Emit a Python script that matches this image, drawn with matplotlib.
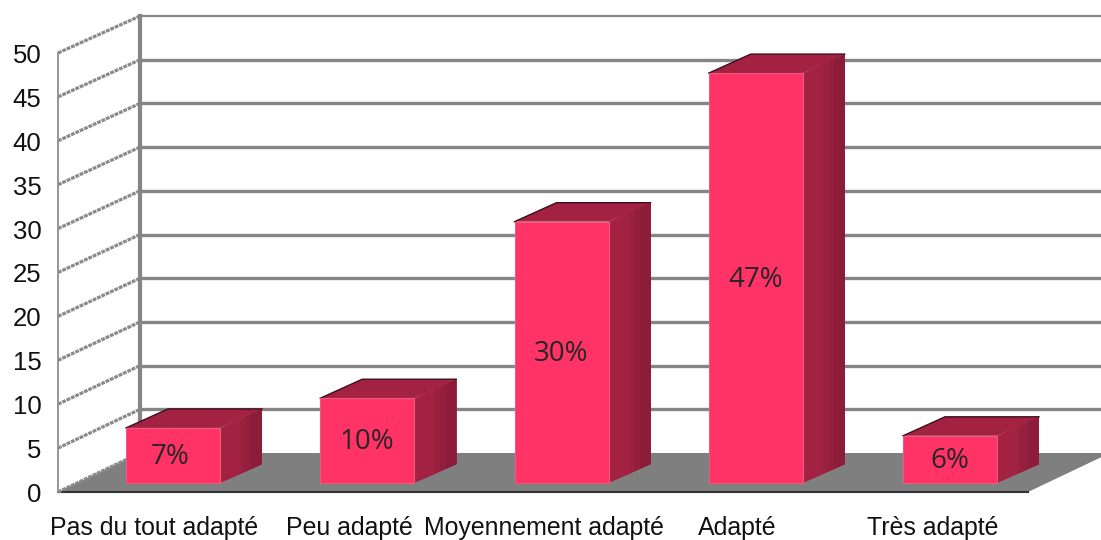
import matplotlib
matplotlib.use("Agg")
import matplotlib.pyplot as plt
from matplotlib.patches import Polygon

categories = ["Pas du tout adapté", "Peu adapté", "Moyennement adapté", "Adapté", "Très adapté"]
bar_heights = [6.3, 9.7, 29.9, 46.9, 5.4]   # as drawn, short bars sit a bit under their label
pct_labels = ["7%", "10%", "30%", "47%", "6%"]
yticks = [0, 5, 10, 15, 20, 25, 30, 35, 40, 45, 50]

# pixels per data unit, data plane = front face of the bars
SX = 194.25
SY = 8.74
W, H = 1101, 540
X0_PX, Y0_PX = 173, 483


def px_x(p):
    return (p - X0_PX) / SX


def px_y(p):
    return (Y0_PX - p) / SY


def mix(c1, c2, t):
    return tuple(a + (b - a) * t for a, b in zip(c1, c2))


BAR_W = 94 / SX
BAR_DX, BAR_DY = 42 / SX, 19 / SY
FRONT_X, BACK_X = px_x(58), px_x(140)
FRONT_RIGHT = px_x(1028)
FRONT_Y0, BACK_Y0 = px_y(492), px_y(453)
GRID = "#858585"
SIDE_LIGHT = (0xa3 / 255, 0x22 / 255, 0x42 / 255)
SIDE_DARK = (0x8c / 255, 0x1c / 255, 0x3a / 255)
STRIPS = 8

fig = plt.figure(figsize=(W / 100, H / 100), dpi=100)
ax = fig.add_axes([0, 0, 1, 1])
ax.set_xlim(px_x(0), px_x(W))
ax.set_ylim(px_y(H), px_y(0))
ax.axis("off")

# floor
floor_dx = BACK_X - FRONT_X
ax.add_patch(Polygon([(FRONT_X, FRONT_Y0), (FRONT_RIGHT, FRONT_Y0),
                      (FRONT_RIGHT + floor_dx, BACK_Y0), (BACK_X, BACK_Y0)],
                     fc="#7f7f7f", ec="none", zorder=1))
ax.plot([FRONT_X, FRONT_RIGHT], [FRONT_Y0, FRONT_Y0], color="#333333", lw=1.5, zorder=2)

# walls and grid
step = 43.7 / SY / 5
front_step = 43.9 / SY / 5
for v in yticks:
    back = BACK_Y0 + v * step
    front = FRONT_Y0 + v * front_step
    if v > 0:
        ax.plot([BACK_X, FRONT_RIGHT + floor_dx], [back, back], color=GRID,
                lw=1.6 if v == 50 else 2.4, zorder=2, solid_capstyle="butt")
    ax.plot([FRONT_X, BACK_X], [front, back], color="#8a8a8a", lw=2.3, ls=(0, (1.2, 0.3)),
            zorder=2)
    ax.text(px_x(41.5), front - 0.05, str(v), ha="right", va="center_baseline", fontsize=18.5,
            family="Liberation Sans", color="#111111", zorder=5)
ax.plot([FRONT_X, FRONT_X], [FRONT_Y0, FRONT_Y0 + 50 * front_step], color="#8f8f8f", lw=1.3, zorder=2)
ax.plot([BACK_X, BACK_X], [BACK_Y0, BACK_Y0 + 50 * step], color=GRID, lw=3, zorder=2)

# bars
for i, (h, lab) in enumerate(zip(bar_heights, pct_labels)):
    l, r = i - BAR_W / 2, i + BAR_W / 2
    # side face, each strip runs to the back edge so no seams show
    for s in range(STRIPS):
        t0 = s / STRIPS
        shade = mix(SIDE_LIGHT, SIDE_DARK, min(1, max(0, (t0 - 0.35) / 0.4)))
        ax.add_patch(Polygon([(r + BAR_DX * t0, BAR_DY * t0), (r + BAR_DX, BAR_DY),
                              (r + BAR_DX, h + BAR_DY), (r + BAR_DX * t0, h + BAR_DY * t0)],
                             fc=shade, ec="none", zorder=3))
    ax.add_patch(Polygon([(l, h), (r, h), (r + BAR_DX, h + BAR_DY), (l + BAR_DX, h + BAR_DY)],
                         fc=SIDE_LIGHT, ec="none", zorder=3))
    ax.plot([l, l + BAR_DX, r + BAR_DX], [h, h + BAR_DY, h + BAR_DY],
            color="#3a1020", lw=1.0, zorder=3)
    # front face
    ax.add_patch(Polygon([(l, 0), (r, 0), (r, h), (l, h)], fc="#ff3366", ec="#ea5c82",
                         lw=0.8, zorder=4))
    ax.text(i - 3 / SX * (i == 0), h * 0.5 - 0.2, lab, ha="center", va="center", fontsize=20,
            family="Open Sans", color="#262626", zorder=5)

# category labels
label_px = [154, 349, 544, 737, 933]
for name, p in zip(categories, label_px):
    ax.text(px_x(p), px_y(528), name, ha="center", va="center", fontsize=17.9,
            family="Liberation Sans", color="#111111")

fig.savefig("out.png", dpi=100)
